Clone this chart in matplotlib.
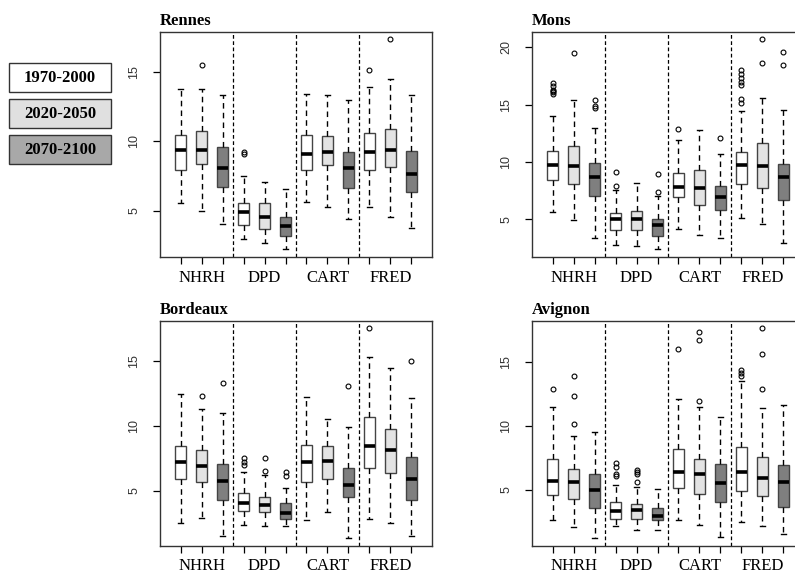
import matplotlib
matplotlib.use("Agg")
import matplotlib.pyplot as plt
from matplotlib.patches import Rectangle

# periodos y metodos
periods = ["1970-2000", "2020-2050", "2070-2100"]
methods = ["NHRH", "DPD", "CART", "FRED"]
fills = ["#ffffff", "#e3e3e3", "#7f7f7f"]
legend_fills = ["#ffffff", "#e0e0e0", "#a8a8a8"]

# orden de cajas: NHRH x3, DPD x3, CART x3, FRED x3
rennes_low = [5.56, 5.0, 4.05, 2.93, 2.64, 2.25, 5.63, 5.23, 4.37, 5.23, 4.55, 3.74]
rennes_q1 = [7.96, 8.37, 6.71, 3.93, 3.69, 3.17, 7.89, 8.32, 6.64, 7.96, 8.15, 6.32]
rennes_med = [9.4, 9.4, 8.08, 4.87, 4.51, 3.88, 9.09, 9.23, 8.08, 9.23, 9.4, 7.67]
rennes_q3 = [10.48, 10.72, 9.57, 5.56, 5.56, 4.55, 10.48, 10.41, 9.23, 10.62, 10.88, 9.3]
rennes_high = [13.8, 13.8, 13.3, 7.5, 7.07, 6.57, 13.43, 13.3, 12.95, 13.88, 14.47, 13.3]
rennes_out = [[], [15.5], [], [9.1, 9.25], [], [], [], [], [], [15.17], [17.4], []]

mons_low = [5.61, 4.94, 3.34, 2.78, 2.64, 2.41, 4.19, 3.66, 3.34, 5.15, 4.62, 2.93]
mons_q1 = [8.46, 8.05, 7.07, 4.1, 4.04, 3.52, 6.92, 6.28, 5.85, 8.12, 7.73, 6.66]
mons_med = [9.74, 9.65, 8.69, 5.06, 5.06, 4.48, 7.85, 7.73, 6.92, 9.77, 9.65, 8.73]
mons_q3 = [10.96, 11.43, 9.91, 5.55, 5.76, 5.03, 9.07, 9.28, 7.94, 10.87, 11.63, 9.83]
mons_high = [14.01, 15.44, 12.97, 7.53, 8.14, 7.07, 11.89, 12.79, 10.7, 14.45, 15.62, 14.51]
mons_out = [[16.93, 16.63, 16.3, 16.2, 16.11, 15.91], [19.55], [15.45, 14.88, 14.72],
            [9.12, 7.92], [], [8.95, 7.38], [12.88], [], [12.13],
            [18.0, 17.65, 17.34, 17.0, 16.7, 15.5, 15.18], [20.77, 18.67], [19.6, 18.5]]

bordeaux_low = [2.53, 2.94, 1.52, 2.34, 2.27, 2.27, 2.73, 3.37, 1.36, 2.86, 2.55, 1.52]
bordeaux_q1 = [5.88, 5.72, 4.3, 3.48, 3.37, 2.86, 5.72, 5.9, 4.54, 6.73, 6.39, 4.28]
bordeaux_med = [7.24, 6.93, 5.75, 4.07, 3.89, 3.3, 7.24, 7.32, 5.49, 8.43, 8.17, 5.9]
bordeaux_q3 = [8.5, 8.17, 7.04, 4.8, 4.54, 4.07, 8.58, 8.43, 6.73, 10.67, 9.77, 7.58]
bordeaux_high = [12.47, 11.31, 10.98, 6.47, 6.22, 5.23, 12.27, 10.54, 9.95, 15.36, 14.46, 12.14]
bordeaux_out = [[], [12.35], [13.35], [7.5, 7.24, 6.99], [7.5, 6.5], [6.47, 6.16],
                [], [], [13.12], [17.55], [], [15.05]]

avignon_low = [2.62, 2.09, 1.23, 2.17, 1.89, 1.89, 2.67, 2.25, 1.31, 2.44, 2.17, 1.57]
avignon_q1 = [4.57, 4.28, 3.61, 2.75, 2.75, 2.62, 5.12, 4.65, 4.05, 4.89, 4.52, 3.66]
avignon_med = [5.67, 5.57, 4.97, 3.32, 3.4, 2.93, 6.35, 6.27, 5.49, 6.35, 5.88, 5.57]
avignon_q3 = [7.37, 6.59, 6.2, 4.03, 3.87, 3.61, 8.2, 7.42, 7.0, 8.36, 7.53, 6.92]
avignon_high = [11.49, 9.22, 9.53, 5.41, 5.18, 5.04, 12.11, 11.44, 10.68, 13.52, 11.36, 11.6]
avignon_out = [[12.85], [13.89, 12.33, 10.13], [], [7.1, 6.8, 6.2, 6.1],
               [6.53, 6.4, 6.2, 5.6], [], [16.0], [17.31, 16.69, 11.93], [],
               [14.36, 14.1, 13.89], [17.63, 15.59, 12.87], []]

serif = "Liberation Serif"
sans = "Liberation Sans"


def panel(ax, title, low, q1, med, q3, high, out, ylim, yticks):
    stats = []
    for i in range(12):
        stats.append(dict(whislo=low[i], q1=q1[i], med=med[i], q3=q3[i],
                          whishi=high[i], fliers=out[i]))
    bp = ax.bxp(stats, positions=list(range(1, 13)), widths=0.55,
                patch_artist=True, manage_ticks=False,
                boxprops=dict(edgecolor="#444444", linewidth=1.0),
                medianprops=dict(color="black", linewidth=2.6, solid_capstyle="butt"),
                whiskerprops=dict(color="black", linewidth=1.0, linestyle=(0, (4, 3))),
                capprops=dict(color="black", linewidth=1.0),
                flierprops=dict(marker="o", markersize=3.5, markerfacecolor="none",
                                markeredgecolor="black", markeredgewidth=0.8))
    for i, b in enumerate(bp["boxes"]):
        b.set_facecolor(fills[i % 3])
    for x in [3.5, 6.5, 9.5]:
        ax.axvline(x, color="black", linewidth=0.9, linestyle=(0, (3, 2)))
    ax.set_xlim(0.02, 12.98)
    ax.set_ylim(*ylim)
    ax.set_yticks(yticks)
    ax.set_yticklabels([str(t) for t in yticks], rotation=90, va="center",
                       family=sans, fontsize=9, color="#333333")
    # ticks en cada caja, etiquetas en el centro de cada metodo
    ax.xaxis.remove_overlapping_locs = False
    ax.set_xticks(list(range(1, 13)))
    ax.set_xticklabels([""] * 12)
    ax.set_xticks([2, 5, 8, 11], minor=True)
    ax.set_xticklabels(methods, minor=True, family=serif, fontsize=12)
    ax.tick_params(axis="x", which="major", length=5, width=0.9, direction="out")
    ax.tick_params(axis="x", which="minor", length=0, pad=9)
    ax.tick_params(axis="y", length=5, width=0.9, direction="out", pad=9)
    for s in ax.spines.values():
        s.set_linewidth(1.0)
        s.set_color("#333333")
    ax.set_title(title, loc="left", fontsize=12, fontweight="bold",
                 family=serif, pad=5)


fig = plt.figure(figsize=(7.95, 5.74), dpi=100)
W, H = 795.0, 574.0
aw, ah = 272 / W, 225 / H
ax1 = fig.add_axes([160 / W, 1 - 257 / H, aw, ah])
ax2 = fig.add_axes([532 / W, 1 - 257 / H, aw, ah])
ax3 = fig.add_axes([160 / W, 1 - 546 / H, aw, ah])
ax4 = fig.add_axes([532 / W, 1 - 546 / H, aw, ah])

panel(ax1, "Rennes", rennes_low, rennes_q1, rennes_med, rennes_q3, rennes_high,
      rennes_out, (1.65, 17.88), [5, 10, 15])
panel(ax2, "Mons", mons_low, mons_q1, mons_med, mons_q3, mons_high,
      mons_out, (1.71, 21.34), [5, 10, 15, 20])
panel(ax3, "Bordeaux", bordeaux_low, bordeaux_q1, bordeaux_med, bordeaux_q3,
      bordeaux_high, bordeaux_out, (0.74, 18.12), [5, 10, 15])
panel(ax4, "Avignon", avignon_low, avignon_q1, avignon_med, avignon_q3,
      avignon_high, avignon_out, (0.6, 18.2), [5, 10, 15])

# leyenda a la izquierda, cajas con texto
tops = [63, 99, 135]
for i, p in enumerate(periods):
    y0 = 1 - (tops[i] + 29) / H
    r = Rectangle((9 / W, y0), 102 / W, 29 / H, transform=fig.transFigure,
                  facecolor=legend_fills[i], edgecolor="#333333", linewidth=1.0)
    fig.add_artist(r)
    fig.text(60 / W, y0 + 14.5 / H, p, ha="center", va="center",
             family=serif, fontweight="bold", fontsize=12)

fig.savefig("out.png", dpi=100)
